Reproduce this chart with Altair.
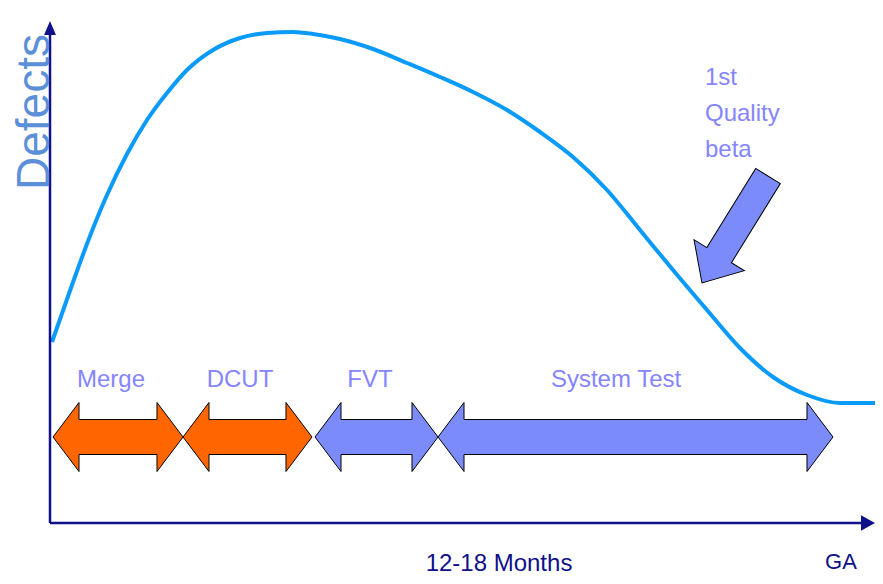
import altair as alt
import pandas as pd

# ---------------- data ----------------
# defect curve: time (t) vs defects (d)
curve_t = [2, 22, 40, 57, 77, 97, 117, 137, 163, 190, 217, 243, 263, 290, 323,
           357, 390, 423, 457, 490, 523, 557, 590, 623, 657, 690, 723, 757, 790, 830]
curve_d = [181, 238, 287, 328, 369, 403, 430, 453, 473, 485, 490, 491, 489, 484, 474,
           460, 446, 431, 413, 391, 366, 333, 293, 253, 213, 175, 146, 128, 120, 120]

# phases shown as double arrows
phase_names = ["Merge", "DCUT", "FVT", "System Test"]
phase_start = [3, 133, 265, 388]
phase_end = [133, 262, 388, 783]
phase_colors = ["#FF6600", "#FF6600", "#7B8BFA", "#7B8BFA"]
phase_label_t = [61, 190, 320, 566]

# beta note
note_lines = ["1st", "Quality", "beta"]

# ---------------- layout constants ----------------
LABEL_D = 136
ARROW_CY = 86
HEAD_HALF = 34.5
BODY_HALF = 17.5
HEAD_LEN = 26
FONT = "'Liberation Sans', Arial, sans-serif"
NAVY = "#10108A"
LABEL_COLOR = "#8585FF"

X = alt.Scale(domain=[-42, 825], nice=False, zero=False)
Y = alt.Scale(domain=[-53, 515], nice=False, zero=False)


def xq(f):
    return alt.X(f, type="quantitative", scale=X, axis=None)


def yq(f):
    return alt.Y(f, type="quantitative", scale=Y, axis=None)


# curve
curve_df = pd.DataFrame({"t": curve_t, "d": curve_d})
curve = alt.Chart(curve_df).mark_line(
    color="#0A9BFA", strokeWidth=4, interpolate="monotone"
).encode(x=xq("t"), y=yq("d"))

# double arrows as areas
rows = []
for name, s, e, c in zip(phase_names, phase_start, phase_end, phase_colors):
    pts = [(s, 0.0), (s + HEAD_LEN, HEAD_HALF), (s + HEAD_LEN + 0.01, BODY_HALF),
           (e - HEAD_LEN - 0.01, BODY_HALF), (e - HEAD_LEN, HEAD_HALF), (e, 0.0)]
    for x, hw in pts:
        rows.append({"name": name, "t": x, "top": ARROW_CY + hw,
                     "bot": ARROW_CY - hw, "color": c})
arrow_df = pd.DataFrame(rows)
arrows = alt.Chart(arrow_df).mark_area(
    stroke="black", strokeWidth=1, interpolate="linear", opacity=1
).encode(
    x=xq("t"),
    y=alt.Y("top:Q", scale=Y, axis=None, stack=None),
    y2="bot:Q",
    fill=alt.Fill("color:N", scale=None),
    detail="name:N",
)

# phase labels
label_df = pd.DataFrame({"t": phase_label_t, "d": [LABEL_D] * 4, "label": phase_names})
labels = alt.Chart(label_df).mark_text(
    font=FONT, fontSize=24, color=LABEL_COLOR, align="center", baseline="alphabetic"
).encode(x=xq("t"), y=yq("d"), text="label:N")

# note text
note_df = pd.DataFrame({"t": [655, 655, 655], "d": [438, 402, 366], "label": note_lines})
note = alt.Chart(note_df).mark_text(
    font=FONT, fontSize=24, color=LABEL_COLOR, align="left", baseline="alphabetic"
).encode(x=xq("t"), y=yq("d"), text="label:N")

# big pointer arrow
big_path = "M0,-1 L0.47,-0.48 L0.23,-0.48 L0.23,1 L-0.23,1 L-0.23,-0.48 L-0.47,-0.48 Z"
big_df = pd.DataFrame({"t": [685], "d": [293.5]})
big = alt.Chart(big_df).mark_point(
    shape=big_path, size=15800, filled=True, fill="#7B8BFA", stroke="black",
    strokeWidth=1, opacity=1, angle=211.7
).encode(x=xq("t"), y=yq("d"))

# axes
axis_df = pd.DataFrame({"t": [0, 0], "d": [0, 0], "t2": [0, 812], "d2": [488, 0]})
axes = alt.Chart(axis_df).mark_rule(color=NAVY, strokeWidth=2.5).encode(
    x=xq("t"), y=yq("d"), x2="t2:Q", y2="d2:Q"
)
up_df = pd.DataFrame({"t": [0], "d": [495]})
up_head = alt.Chart(up_df).mark_point(
    shape="M0,-1 L0.85,1 L-0.85,1 Z", size=196, filled=True, fill=NAVY,
    strokeWidth=0, opacity=1
).encode(x=xq("t"), y=yq("d"))
right_df = pd.DataFrame({"t": [818], "d": [0]})
right_head = alt.Chart(right_df).mark_point(
    shape="M1,0 L-1,1.1 L-1,-1.1 Z", size=196, filled=True, fill=NAVY,
    strokeWidth=0, opacity=1
).encode(x=xq("t"), y=yq("d"))

# axis titles
ytitle = alt.Chart(pd.DataFrame({"t": [-1], "d": [411], "label": ["Defects"]})).mark_text(
    font=FONT, fontSize=46, color="#5B8FD8", angle=270, align="center", baseline="alphabetic"
).encode(x=xq("t"), y=yq("d"), text="label:N")
xtitle_df = pd.DataFrame({"t": [449], "d": [-48], "label": ["12-18 Months"]})
xtitle = alt.Chart(xtitle_df).mark_text(
    font=FONT, fontSize=24, color=NAVY, align="center", baseline="alphabetic"
).encode(x=xq("t"), y=yq("d"), text="label:N")
ga_df = pd.DataFrame({"t": [791], "d": [-46], "label": ["GA"]})
ga = alt.Chart(ga_df).mark_text(
    font=FONT, fontSize=22, color=NAVY, align="center", baseline="alphabetic"
).encode(x=xq("t"), y=yq("d"), text="label:N")

chart = alt.layer(
    curve, arrows, labels, note, big, axes, up_head, right_head, ytitle, xtitle, ga
).properties(
    width=867, height=568, autosize="none", padding=0, background="white"
).configure_view(stroke=None)

chart.save("out.html", embed_options={"renderer": "svg", "actions": False})
